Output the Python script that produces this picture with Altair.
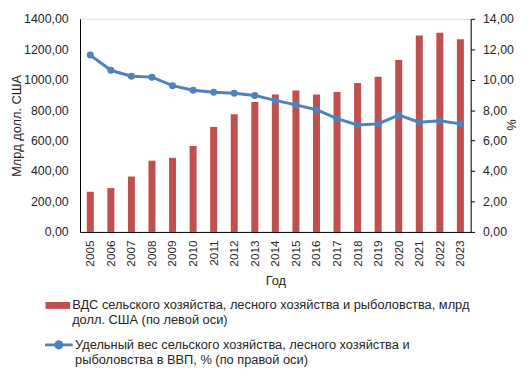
import json
import altair as alt
import pandas as pd

years = [str(y) for y in range(2005, 2024)]
gva = [264, 288, 364, 468, 487, 565, 690, 773, 853, 903, 929, 903, 920, 978, 1019, 1130, 1290, 1309, 1266]
share = [11.62, 10.62, 10.23, 10.17, 9.61, 9.31, 9.18, 9.11, 8.96, 8.64, 8.35, 8.03, 7.44, 7.03, 7.10, 7.68, 7.21, 7.31, 7.10]
bar_legend_lines = ["ВДС сельского хозяйства, лесного хозяйства и рыболовства, млрд",
                    "долл.  США (по левой оси)"]
line_legend_lines = ["Удельный  вес сельского хозяйства, лесного хозяйства и",
                     "рыболовства в ВВП, % (по правой оси)"]
left_title = "Млрд долл. США"
right_title = "%"
x_title = "Год"

RED = "#C0504D"
BLUE = "#4F81BD"
FONT = "Liberation Sans"
TXT = "#262626"

df = pd.DataFrame({"year": years, "gva": gva, "share": share,
                   "s1": "bar", "s2": "line"})

fmt = "replace(format(datum.value, '.2f'), '.', ',')"

x = alt.X("year:N", title=x_title,
          scale=alt.Scale(paddingInner=0.66, paddingOuter=0.33),
          axis=alt.Axis(labelAngle=-90, ticks=False, labelPadding=8, titlePadding=9,
                        domainColor="#000000", labelFontSize=12, titleFontSize=13))

bars = alt.Chart(df).mark_bar(color=RED).encode(
    x=x,
    y=alt.Y("gva:Q", title=left_title,
            scale=alt.Scale(domain=[0, 1400]),
            axis=alt.Axis(values=list(range(0, 1401, 200)), labelExpr=fmt, ticks=False,
                          labelPadding=12, grid=False, domainColor="#000000",
                          titleX=-64, titleY=108, titleAngle=-90, titleBaseline="middle")),
    color=alt.Color("s1:N", scale=alt.Scale(range=[RED]),
                    legend=alt.Legend(title=None, orient="none", legendX=-35, legendY=278,
                                      symbolType="M-1,-0.28H1V0.28H-1Z", symbolSize=625,
                                      symbolStrokeWidth=0, symbolFillColor=RED,
                                      labelExpr=json.dumps(bar_legend_lines),
                                      labelLimit=600, labelFontSize=13, labelOffset=2,
                                      labelBaseline="middle", padding=0))
)

line = alt.Chart(df).mark_line(color=BLUE, strokeWidth=3,
                               point=alt.OverlayMarkDef(filled=True, size=50, color=BLUE)).encode(
    x=x,
    y=alt.Y("share:Q", title=right_title,
            scale=alt.Scale(domain=[0, 14]),
            axis=alt.Axis(orient="right", values=list(range(0, 15, 2)), labelExpr=fmt,
                          tickSize=4, labelPadding=8, grid=False, domainColor="#000000",
                          tickColor="#000000", titleX=40, titleY=107, titleAngle=90,
                          titleBaseline="middle")),
    color=alt.Color("s2:N", scale=alt.Scale(range=[BLUE]),
                    legend=alt.Legend(title=None, orient="none", legendX=-37, legendY=315,
                                      symbolType="M-1,0H1M0.22,0A0.22,0.22 0 1 1 -0.22,0A0.22,0.22 0 1 1 0.22,0",
                                      symbolSize=784, symbolStrokeWidth=3,
                                      symbolFillColor=BLUE, symbolStrokeColor=BLUE,
                                      labelExpr=json.dumps(line_legend_lines),
                                      labelLimit=600, labelFontSize=13, labelOffset=1,
                                      labelBaseline="middle", padding=0))
)

chart = alt.layer(bars, line).resolve_scale(y="independent", color="independent").properties(
    width=396, height=216,
    autosize=alt.AutoSizeParams(type="none"),
    padding={"left": 73, "top": 8.5, "right": 51, "bottom": 140.5},
).configure_view(stroke=None).configure(font=FONT).configure_axis(
    labelFont=FONT, titleFont=FONT, labelColor=TXT, titleColor=TXT,
    labelFontSize=12.5, titleFontSize=13, titleFontWeight="normal"
).configure_legend(labelFont=FONT, labelColor=TXT)

chart.save("out.html", embed_options={"renderer": "svg", "actions": False})
